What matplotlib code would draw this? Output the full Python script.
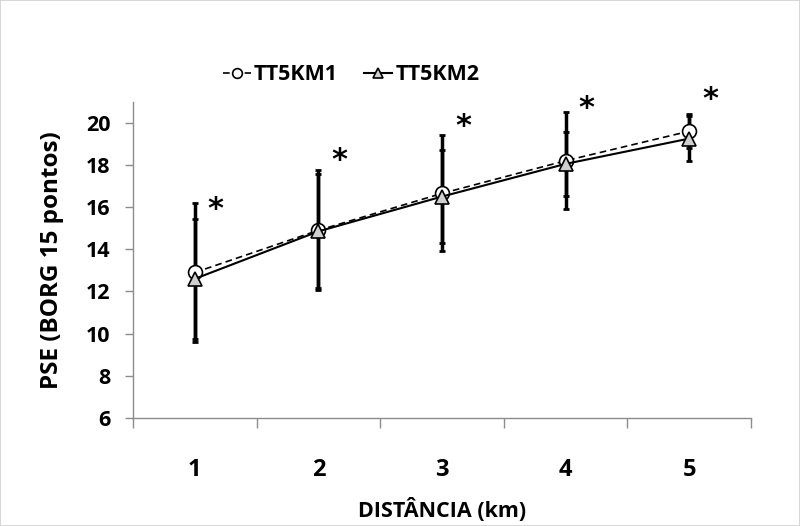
import matplotlib
matplotlib.use("Agg")
import matplotlib.pyplot as plt
from matplotlib.patches import Rectangle

plt.rcParams['font.family'] = ['Open Sans', 'DejaVu Sans']

categories = ["1", "2", "3", "4", "5"]
tt1_mean = [12.9, 14.9, 16.65, 18.2, 19.6]
tt1_sd = [3.3, 2.85, 2.75, 2.3, 0.8]
tt2_mean = [12.6, 14.85, 16.5, 18.05, 19.25]
tt2_sd = [2.85, 2.7, 2.2, 1.5, 1.05]
star_y = [15.9, 18.2, 19.8, 20.7, 21.1]
y_ticks = [6, 8, 10, 12, 14, 16, 18, 20]

fig = plt.figure(figsize=(8, 5.26), dpi=100)
fig.patches.append(Rectangle((0, 0), 1, 1, transform=fig.transFigure,
                             fill=False, edgecolor='#d0d0d0', linewidth=1.2))
ax = fig.add_axes([0.16625, 0.2053, 0.7725, 0.6014])

x = list(range(1, len(categories) + 1))

ax.errorbar(x, tt1_mean, yerr=tt1_sd, fmt='none', ecolor='black',
            elinewidth=2.5, capsize=2.5, capthick=2, zorder=2)
ax.errorbar(x, tt2_mean, yerr=tt2_sd, fmt='none', ecolor='black',
            elinewidth=2.5, capsize=2.5, capthick=2, zorder=2)
ax.plot(x, tt1_mean, linestyle=(0, (4, 2.5)), color='black', linewidth=1.2,
        marker='o', markersize=10, markerfacecolor='white',
        markeredgecolor='black', markeredgewidth=1.2, label='TT5KM1', zorder=3)
ax.plot(x, tt2_mean, linestyle='-', color='black', linewidth=1.5,
        marker='^', markersize=10, markerfacecolor='#cfcfcf',
        markeredgecolor='black', markeredgewidth=1.2, label='TT5KM2', zorder=4)

for xi, sy in zip(x, star_y):
    ax.text(xi + 0.17, sy, '*', fontsize=22, fontweight='bold',
            ha='center', va='center', family='DejaVu Sans')

ax.set_xlim(0.5, len(categories) + 0.5)
ax.set_ylim(6, 21)
ax.set_yticks(y_ticks)
ax.set_xticks(x)
ax.set_xticklabels(categories, fontsize=17, fontweight='bold')
ax.set_xticks([i + 0.5 for i in range(0, len(categories) + 1)], minor=True)
ax.tick_params(axis='x', which='major', length=0, pad=29)
ax.tick_params(axis='x', which='minor', length=7, width=1, color='#8c8c8c',
               direction='out')
ax.tick_params(axis='y', length=6, width=1, color='#8c8c8c', pad=10,
               labelsize=15.5)
for lbl in ax.get_yticklabels():
    lbl.set_fontweight('bold')

for s in ['top', 'right']:
    ax.spines[s].set_visible(False)
for s in ['left', 'bottom']:
    ax.spines[s].set_color('#8c8c8c')
    ax.spines[s].set_linewidth(1)

ax.set_xlabel('DISTÂNCIA (km)', fontsize=15.5, fontweight='bold', labelpad=11)
ax.set_ylabel('PSE (BORG 15 pontos)', fontsize=17.5, fontweight='bold',
              labelpad=16)

fig.legend(loc='center', bbox_to_anchor=(351 / 800, 1 - 75 / 526), ncol=2,
           frameon=False, prop={'weight': 'bold', 'size': 15.5},
           handlelength=1.3, handletextpad=0.15, columnspacing=1.2,
           markerscale=0.7, borderpad=0)

fig.savefig('out.png', dpi=100)
